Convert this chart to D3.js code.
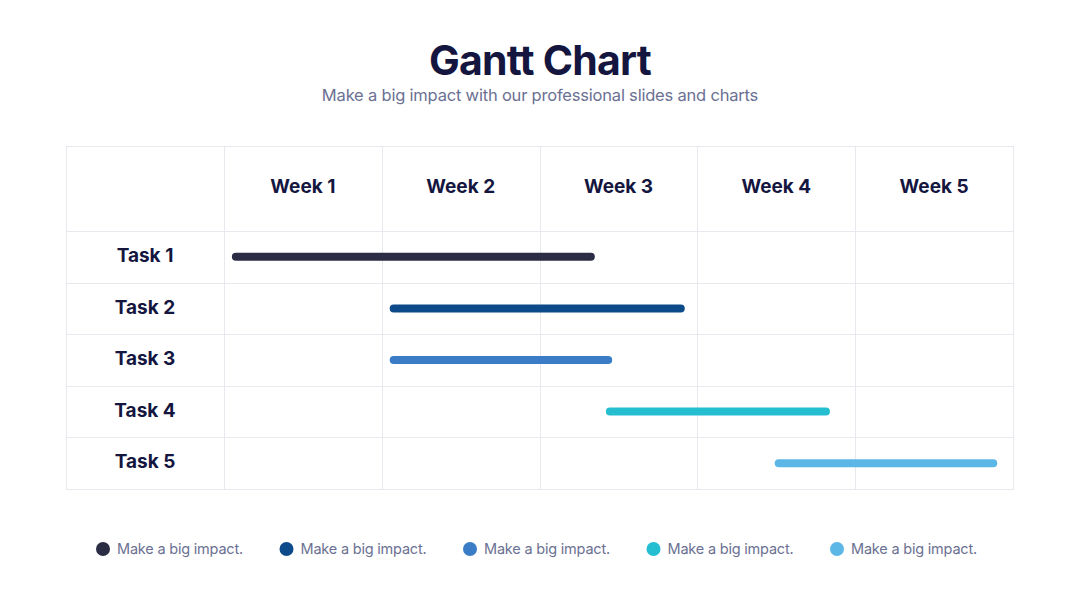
<!DOCTYPE html>
<html>
<head>
<meta charset="utf-8">
<script src="https://cdn.jsdelivr.net/npm/d3@7"></script>
<style>
  body { margin: 0; background: #fff; }
  text { font-family: Inter, "DejaVu Sans", sans-serif; }
</style>
</head>
<body>
<div id="viz"></div>
<script>
// Chart data
const weeks = ['Week 1', 'Week 2', 'Week 3', 'Week 4', 'Week 5'];
const tasks = ['Task 1', 'Task 2', 'Task 3', 'Task 4', 'Task 5'];
const starts = [0.05, 1.05, 1.05, 2.42, 3.49];   // in weeks
const ends = [2.35, 2.92, 2.46, 3.84, 4.90];
const colors = ['#2b2d45', '#0d4a8a', '#3a7cc5', '#25bed1', '#5cb6e6'];
const legendLabels = ['Make a big impact.', 'Make a big impact.', 'Make a big impact.', 'Make a big impact.', 'Make a big impact.'];

const width = 1080;
const height = 608;

const svg = d3.select('#viz')
  .append('svg')
  .attr('width', width)
  .attr('height', height);

// Title
svg.append('text')
  .attr('x', width / 2)
  .attr('y', 75)
  .attr('text-anchor', 'middle')
  .attr('font-size', 41)
  .attr('font-weight', 700)
  .attr('letter-spacing', -0.8)
  .attr('fill', '#141640')
  .text('Gantt Chart');

svg.append('text')
  .attr('x', width / 2)
  .attr('y', 101)
  .attr('text-anchor', 'middle')
  .attr('font-size', 16.5)
  .attr('letter-spacing', -0.2)
  .attr('fill', '#6b7192')
  .text('Make a big impact with our professional slides and charts');

// Layout of grid
const gLeft = 66, gRight = 1013, gTop = 146, headerBottom = 231, gBottom = 489;
const labelColRight = 224;

const x = d3.scaleLinear()
  .domain([0, weeks.length])
  .range([labelColRight, gRight]);

const y = d3.scaleBand()
  .domain(tasks)
  .range([headerBottom, gBottom]);

const grid = svg.append('g')
  .attr('stroke', '#e8e9ee')
  .attr('stroke-width', 1);

// outer border
grid.append('rect')
  .attr('x', gLeft + 0.5)
  .attr('y', gTop + 0.5)
  .attr('width', gRight - gLeft)
  .attr('height', gBottom - gTop)
  .attr('fill', 'none');

// vertical lines
grid.selectAll('line.v')
  .data(d3.range(0, weeks.length))
  .enter()
  .append('line')
  .attr('x1', d => Math.round(x(d)) + 0.5)
  .attr('x2', d => Math.round(x(d)) + 0.5)
  .attr('y1', gTop)
  .attr('y2', gBottom);

// horizontal lines
grid.selectAll('line.h')
  .data(tasks)
  .enter()
  .append('line')
  .attr('x1', gLeft)
  .attr('x2', gRight)
  .attr('y1', d => Math.round(y(d)) + 0.5)
  .attr('y2', d => Math.round(y(d)) + 0.5);

// Week headers
svg.selectAll('text.week')
  .data(weeks)
  .enter()
  .append('text')
  .attr('x', (d, i) => x(i + 0.5))
  .attr('y', (gTop + headerBottom) / 2 - 2)
  .attr('dy', '0.35em')
  .attr('text-anchor', 'middle')
  .attr('font-size', 19)
  .attr('font-weight', 700)
  .attr('fill', '#141640')
  .text(d => d);

// Task labels
svg.selectAll('text.task')
  .data(tasks)
  .enter()
  .append('text')
  .attr('x', (gLeft + labelColRight) / 2)
  .attr('y', d => y(d) + y.bandwidth() / 2 - 1.5)
  .attr('dy', '0.35em')
  .attr('text-anchor', 'middle')
  .attr('font-size', 19)
  .attr('font-weight', 700)
  .attr('fill', '#141640')
  .text(d => d);

// Bars
const barH = 8;
svg.selectAll('rect.bar')
  .data(tasks)
  .enter()
  .append('rect')
  .attr('x', (d, i) => x(starts[i]))
  .attr('y', d => y(d) + y.bandwidth() / 2 - barH / 2)
  .attr('width', (d, i) => x(ends[i]) - x(starts[i]))
  .attr('height', barH)
  .attr('rx', barH / 2)
  .attr('fill', (d, i) => colors[i]);

// Legend
const legendX = d3.scaleLinear()
  .domain([0, legendLabels.length - 1])
  .range([103, 837]);

const legend = svg.selectAll('g.legend')
  .data(legendLabels)
  .enter()
  .append('g')
  .attr('transform', (d, i) => `translate(${legendX(i)},549)`);

legend.append('circle')
  .attr('r', 7)
  .attr('fill', (d, i) => colors[i]);

legend.append('text')
  .attr('x', 14)
  .attr('dy', '0.35em')
  .attr('font-size', 14.5)
  .attr('letter-spacing', -0.2)
  .attr('fill', '#6b7192')
  .text(d => d);
</script>
</body>
</html>
